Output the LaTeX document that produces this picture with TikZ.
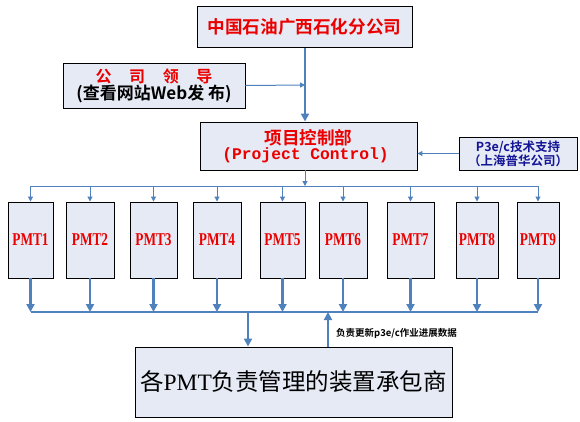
\documentclass[tikz,border=0pt]{standalone}
\usepackage{fontspec}
\setmainfont{Liberation Serif}
\newfontfamily\cjk{Noto Sans CJK SC}
\newfontfamily\cjkbold{Noto Sans CJK SC Bold}
\newfontfamily\monof{Liberation Mono}
\usetikzlibrary{arrows.meta}
\definecolor{boxfill}{RGB}{229,234,245}
\definecolor{lineblue}{RGB}{79,129,189}
\definecolor{txtred}{RGB}{235,0,0}
\definecolor{txtblue}{RGB}{20,20,150}
\newcommand{\pmtlabel}[1]{\scalebox{0.74}[1]{\fontsize{18}{18}\selectfont\bfseries #1}}
\tikzset{
  box/.style={draw=black, fill=boxfill, line width=0.9pt, inner sep=0pt, align=center},
  pmtbox/.style={box, minimum height=76pt, text=txtred},
  thinarrow/.style={draw=lineblue, line width=1pt, -{Triangle[length=5pt,width=5pt]}},
  thickarrow/.style={draw=lineblue, line width=2.2pt, -{Triangle[length=8pt,width=8pt]}},
  thinline/.style={draw=lineblue, line width=1pt},
  thickline/.style={draw=lineblue, line width=2.2pt}
}
\begin{document}
\begin{tikzpicture}[x=1pt,y=-1pt]
\useasboundingbox (0,0) rectangle (580,421);
% boxes
\node[box, minimum width=215pt, minimum height=41pt] (top) at (304.5,27)
  {\cjkbold\fontsize{17.6}{17.6}\selectfont\color{txtred}中国石油广西石化分公司};
\node[box, minimum width=182pt, minimum height=45pt] (lead) at (154,85.5)
  {\cjkbold\fontsize{16}{18}\selectfont\color{txtred}公\hspace{1.1em}司\hspace{1.1em}领\hspace{1.1em}导\\[0pt]
   \cjkbold\fontsize{17}{19}\selectfont (查看网站Web发\ 布)};
\node[box, minimum width=217pt, minimum height=48pt] (pc) at (308.5,146)
  {\cjkbold\fontsize{17.6}{20}\selectfont\color{txtred}项目控制部\\[0pt]
   \monof\bfseries\fontsize{16.3}{18}\selectfont\color{txtred}(Project Control)\hspace{6pt}};
\node[box, minimum width=118pt, minimum height=33pt] (p3e) at (518,153.5)
  {\cjkbold\fontsize{12.5}{14}\selectfont\color{txtblue}P3e/c技术支持\\
   \cjkbold\fontsize{12.5}{14}\selectfont\color{txtblue}（上海普华公司）};
\node[pmtbox, minimum width=45pt] (m1) at (30.5,240) {\pmtlabel{PMT1}};
\node[pmtbox, minimum width=48pt] (m2) at (90,240) {\pmtlabel{PMT2}};
\node[pmtbox, minimum width=47pt] (m3) at (153.5,240) {\pmtlabel{PMT3}};
\node[pmtbox, minimum width=48pt] (m4) at (217,240) {\pmtlabel{PMT4}};
\node[pmtbox, minimum width=45pt] (m5) at (282.5,240) {\pmtlabel{PMT5}};
\node[pmtbox, minimum width=48pt] (m6) at (343,240) {\pmtlabel{PMT6}};
\node[pmtbox, minimum width=47pt] (m7) at (410.5,240) {\pmtlabel{PMT7}};
\node[pmtbox, minimum width=42pt] (m8) at (477,240) {\pmtlabel{PMT8}};
\node[pmtbox, minimum width=42pt] (m9) at (538,240) {\pmtlabel{PMT9}};
\node[box, minimum width=317pt, minimum height=70pt] (big) at (293.5,382)
  {\cjk\fontsize{23.5}{23.5}\selectfont 各\rmfamily\fontsize{23.5}{23.5}\selectfont PMT\cjk 负责管理的装置承包商};
% coordinates
\coordinate (topbus) at (305,186);
\coordinate (botbus) at (305,312);
\coordinate (join) at (305,85);
\coordinate (downpt) at (248,312);
\coordinate (uppt) at (328,312);
% top flow
\draw[thickarrow] (top.south -| join) -- (pc.north -| join);
\draw[thinarrow] (lead.east) -- (join);
\draw[thinarrow] (p3e.west) -- (pc.east |- p3e.west);
\draw[thinarrow] (pc.south -| topbus) -- (topbus);
\draw[thinline] (m1.north |- topbus) -- (m9.north |- topbus);
\foreach \i in {1,...,9} {
  \draw[thinarrow] (m\i.north |- topbus) -- (m\i.north);
  \draw[thickarrow] (m\i.south) -- (m\i.south |- botbus);
}
\draw[thickline] (m1.south |- botbus) -- (m9.south |- botbus);
\draw[thickarrow] (downpt) -- (big.north -| downpt);
\draw[thickarrow] (big.north -| uppt) -- (uppt);
\node[anchor=west, inner sep=0pt] (lbl) at (336,333)
  {\cjkbold\fontsize{9.5}{10}\selectfont 负责更新p3e/c作业进展数据};
\end{tikzpicture}
\end{document}
